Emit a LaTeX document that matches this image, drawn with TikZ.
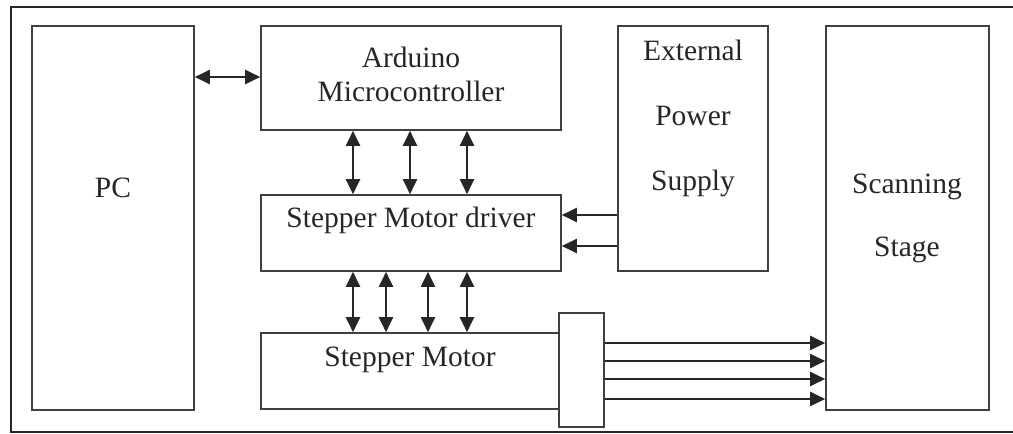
\documentclass[tikz,border=0pt]{standalone}
\usepackage{fontspec}
\setmainfont{Liberation Serif}
\usetikzlibrary{arrows.meta,positioning,calc}

\begin{document}
\begin{tikzpicture}[
    x=1pt, y=-1pt,
    font=\fontsize{29.5}{34}\selectfont,
    blk/.style={draw=black!75, line width=1.6pt, inner sep=0pt},
    txt/.style={align=center, inner sep=0pt, text=black!85},
    link/.style={-{Triangle[length=15pt, width=14pt]}, line width=2pt, draw=black!85},
    both/.style={{Triangle[length=15pt, width=14pt]}-{Triangle[length=15pt, width=14pt]}, line width=2pt, draw=black!85},
    frame/.style={line width=2.8pt, draw=black!85},
  ]
  \useasboundingbox (0,0) rectangle (1013,434);
  \draw[frame] (1013,7) -| (11,432) -- (1013,432);

  % blocks
  \node[blk, minimum width=162pt, minimum height=384pt] (pc) at (113,218) {};
  \node[blk, minimum width=300pt, minimum height=104pt] (ard) at (411,78) {};
  \node[blk, minimum width=300pt, minimum height=76pt] (drv) at (411,233) {};
  \node[blk, minimum width=298pt, minimum height=76pt] (mot) at (410,371) {};
  \node[blk, minimum width=45pt, minimum height=114pt] (shaft) at (581.5,370) {};
  \node[blk, minimum width=150pt, minimum height=245pt] (pwr) at (693,148.5) {};
  \node[blk, minimum width=163pt, minimum height=384pt] (stage) at (907.5,218) {};

  % texts
  \node[txt] (pctxt) at (113,188) {PC};
  \node[txt] (ardtxt) at (411,74) {Arduino\\Microcontroller};
  \node[txt] (drvtxt) at (411,220) {Stepper Motor driver};
  \node[txt] (mottxt) at (410,360) {Stepper Motor};
  \node[txt, font=\fontsize{29.5}{36}\selectfont] (pwrtxt) at (693,118) {External\\[29pt]Power\\[29pt]Supply};
  \node[txt, font=\fontsize{29.5}{36}\selectfont] (stagetxt) at (907,218) {Scanning\\[27pt]Stage};

  % connections
  \draw[both] (pc.east |- 0,77) -- (ard.west |- 0,77);
  \foreach \x in {353,410,467}
    \draw[both] (ard.south -| \x,0) -- (drv.north -| \x,0);
  \foreach \x in {353,386,428,467}
    \draw[both] (drv.south -| \x,0) -- (mot.north -| \x,0);
  \foreach \y in {215,246}
    \draw[link] (pwr.west |- 0,\y) -- (drv.east |- 0,\y);
  \foreach \y in {343,361,379,399}
    \draw[link] (shaft.east |- 0,\y) -- (stage.west |- 0,\y);
\end{tikzpicture}
\end{document}
